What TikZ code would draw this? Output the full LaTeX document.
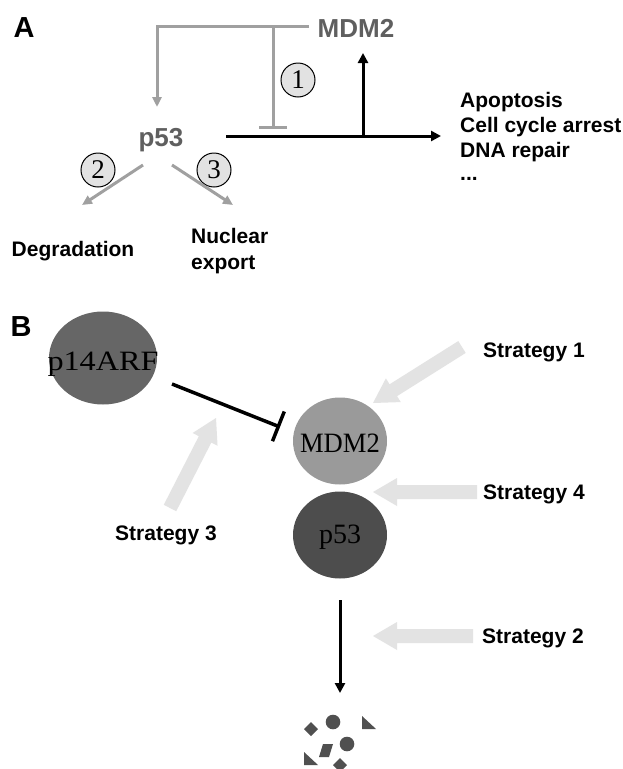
\documentclass[tikz,border=0pt]{standalone}
\usepackage{fontspec}
\setmainfont{Liberation Serif}
\setsansfont{Liberation Sans}
\usetikzlibrary{arrows.meta,calc,shapes.geometric}
\definecolor{linegray}{HTML}{A0A0A0}
\definecolor{textgray}{HTML}{5F5F5F}
\definecolor{numfill}{HTML}{E2E2E2}
\definecolor{stratfill}{HTML}{E3E3E3}
\definecolor{arffill}{HTML}{666666}
\definecolor{mdmfill}{HTML}{9A9A9A}
\definecolor{pfill}{HTML}{4D4D4D}
\definecolor{fragfill}{HTML}{505050}
\newcommand{\fatarrow}[3]{%
  \coordinate (#1h) at ($(#3)!24pt!(#2)$);
  \fill[stratfill] ($(#2)!7pt!90:(#3)$) -- ($(#1h)!7pt!90:(#3)$) -- ($(#1h)!14pt!90:(#3)$)
    -- (#3) -- ($(#1h)!14pt!-90:(#3)$) -- ($(#1h)!7pt!-90:(#3)$) -- ($(#2)!7pt!-90:(#3)$) -- cycle;}
\tikzset{
  lab/.style={font={\fontsize{21}{25}\selectfont\sffamily\bfseries}, inner sep=0pt},
  panel/.style={font={\fontsize{29}{32}\selectfont\sffamily\bfseries}, inner sep=0pt},
  bigA/.style={font={\fontsize{26}{30}\selectfont\sffamily\bfseries}, text=textgray, inner sep=0pt},
  num/.style={circle, draw=black, line width=1pt, fill=numfill, minimum size=34pt, inner sep=0pt,
    font={\fontsize{27}{30}\selectfont\rmfamily}},
  glin/.style={draw=linegray, line width=3pt},
  garrow/.style={glin, -{Triangle[length=10pt, width=9pt]}},
  blin/.style={draw=black, line width=3pt},
  barrow/.style={blin, -{Triangle[length=10pt, width=10pt]}},
  blob/.style={ellipse, inner sep=0pt},
  blobtext/.style={font={\fontsize{28}{30}\selectfont\rmfamily}, inner sep=0pt},
}
\begin{document}
\begin{tikzpicture}[x=1pt, y=-1pt]
\useasboundingbox (0,0) rectangle (622,769);
\fill[white] (0,0) rectangle (622,769);
% ---------- Panel A ----------
\node[panel] (labA) at (24,28) {A};
\node[bigA] (mdmA) at (356,28) {MDM2};
\node[bigA, anchor=base] (p53A) at (161,146) {p53};
\coordinate (corner) at (157,26);
\coordinate (p53in) at (157,107);
\coordinate (mstart) at (309,26);
\draw[garrow] (mstart) -- (corner) -- (p53in);
\coordinate (inhtop) at (273,26);
\coordinate (inhend) at (273,129);
\draw[glin, -{Bar[width=28pt]}] (inhtop) -- (inhend);
\node[num] (n1) at (298,80) {1};
\coordinate (bstart) at (226,136);
\coordinate (bend) at (441,136);
\draw[barrow] (bstart) -- (bend);
\coordinate (vbase) at (363,136);
\coordinate (vtip) at (363,53);
\draw[barrow] (vbase) -- (vtip);
\node[lab, anchor=base west] (o1) at (460,107) {Apoptosis};
\node[lab, anchor=base west] (o2) at (460,132) {Cell cycle arrest};
\node[lab, anchor=base west] (o3) at (460,157) {DNA repair};
\node[lab, anchor=base west] (o4) at (460,180) {...};
\node[num] (n2) at (98,170) {2};
\node[num] (n3) at (214,170) {3};
\coordinate (d2s) at (143,165);
\coordinate (d2e) at (82,205);
\coordinate (d3s) at (172,165);
\coordinate (d3e) at (233,205);
\draw[garrow] (d2s) -- (d2e);
\draw[garrow] (d3s) -- (d3e);
\node[lab, anchor=base] (deg) at (73,256) {Degradation};
\node[lab, anchor=base west] (nuc1) at (191,243) {Nuclear};
\node[lab, anchor=base west] (nuc2) at (191,269) {export};
% ---------- Panel B ----------
\node[panel] (labB) at (21,327) {B};
\node[blob, fill=arffill, minimum width=108pt, minimum height=93pt] (arf) at (103,358) {};
\node[blobtext, anchor=base, xscale=1.15] (arfT) at (103,370) {p14ARF};
\node[blob, fill=mdmfill, minimum width=94pt, minimum height=87pt] (mdm) at (340,441) {};
\node[blobtext, xscale=0.95] (mdmT) at (340,443) {MDM2};
\node[blob, fill=pfill, minimum width=94pt, minimum height=87pt] (p53B) at (340,535) {};
\node[blobtext] (p53T) at (340,537) {p53};
\coordinate (inhs) at (172,384);
\coordinate (inhe) at (280,427);
\draw[draw=black, line width=3.5pt, -{Bar[width=32pt]}] (inhs) -- (inhe);
\fatarrow{s1}{462,347}{373,403}
\fatarrow{s4}{477,492}{373,492}
\fatarrow{s2}{473,636}{373,636}
\fatarrow{s3}{170,508}{216,418}
\node[lab, anchor=base west] (st1) at (483,357) {Strategy 1};
\node[lab, anchor=base west] (st4) at (483,499) {Strategy 4};
\node[lab, anchor=base west] (st2) at (482,643) {Strategy 2};
\node[lab, anchor=base] (st3) at (166,540) {Strategy 3};
\coordinate (degs) at (340,600);
\coordinate (dege) at (340,693);
\draw[barrow] (degs) -- (dege);
% fragments
\fill[fragfill] (311,722) -- (318,729) -- (311,736) -- (304,729) -- cycle;
\fill[fragfill] (333,722) circle (7.3pt);
\fill[fragfill] (362,716) -- (362,729) -- (376,729) -- cycle;
\fill[fragfill] (347,744) circle (7.3pt);
\fill[fragfill] (323,744) -- (333,744) -- (329,757) -- (319,757) -- cycle;
\fill[fragfill] (304,752) -- (304,765) -- (318,765) -- cycle;
\fill[fragfill] (340,758) -- (347,765) -- (340,772) -- (333,765) -- cycle;
\end{tikzpicture}
\end{document}
